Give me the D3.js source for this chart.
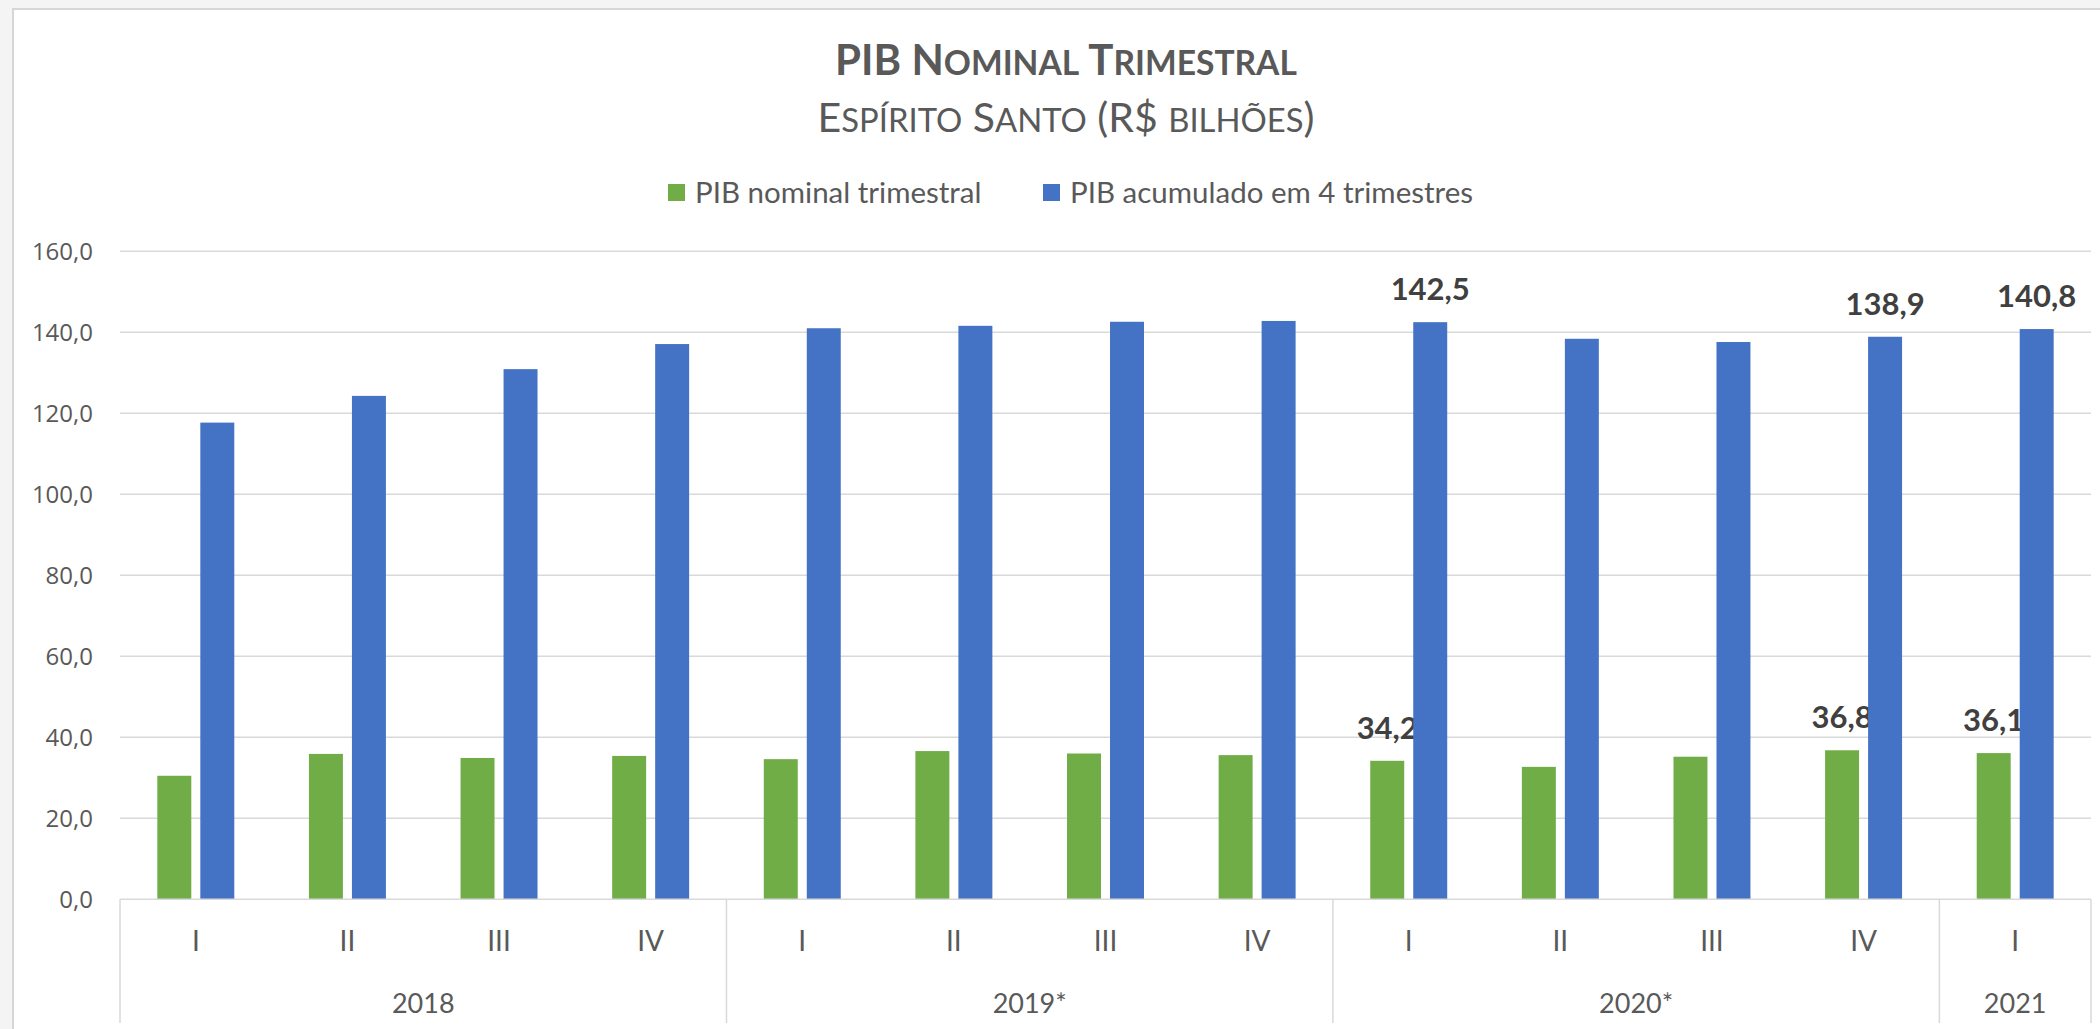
<!DOCTYPE html>
<html lang="pt">
<head>
<meta charset="UTF-8">
<title>PIB Nominal Trimestral</title>
<script src="https://d3js.org/d3.v7.min.js"></script>
<style>
  body { margin: 0; background: #f4f4f4; }
  svg { display: block; }
</style>
</head>
<body>
<div id="chart"></div>
<script>
// data
var quarters = ["I", "II", "III", "IV", "I", "II", "III", "IV", "I", "II", "III", "IV", "I"];
var years = ["2018", "2019*", "2020*", "2021"];
var yearSpan = [4, 4, 4, 1];
var seriesNames = ["PIB nominal trimestral", "PIB acumulado em 4 trimestres"];
var pibTrimestral = [30.5, 35.9, 34.9, 35.4, 34.6, 36.6, 36.0, 35.6, 34.2, 32.7, 35.2, 36.8, 36.1];
var pibAcumulado = [117.7, 124.3, 130.9, 137.1, 141.0, 141.6, 142.6, 142.8, 142.5, 138.4, 137.6, 138.9, 140.8];
var labelled = [8, 11, 12];
var yTicks = [0, 20, 40, 60, 80, 100, 120, 140, 160];

var width = 2100, height = 1029;
var colors = ["#70AD47", "#4472C4"];
var textColor = "#595959";

var svg = d3.select("#chart").append("svg")
    .attr("width", width)
    .attr("height", height);

// chart area
svg.append("rect")
    .attr("x", 13).attr("y", 9)
    .attr("width", width + 20).attr("height", height + 20)
    .attr("fill", "#ffffff")
    .attr("stroke", "#d6d6d6")
    .attr("stroke-width", 2);

var plot = {left: 120, right: 2091, top: 251.3, bottom: 899.3};

var idx = d3.range(quarters.length);
var x0 = d3.scaleBand().domain(idx).range([plot.left, plot.right]);
var x1 = d3.scaleBand().domain([0, 1]).range([0, x0.bandwidth()])
    .paddingInner(0.21).paddingOuter(0.868);
var y = d3.scaleLinear().domain([0, 160]).range([plot.bottom, plot.top]);

var fmt = d3.formatLocale({decimal: ",", thousands: ".", grouping: [3], currency: ["R$", ""]}).format(".1f");

// gridlines
svg.append("g").selectAll("line")
    .data(yTicks.filter(function(d) { return d > 0; }))
    .join("line")
    .attr("x1", plot.left).attr("x2", plot.right)
    .attr("y1", function(d) { return y(d); })
    .attr("y2", function(d) { return y(d); })
    .attr("stroke", "#d9d9d9")
    .attr("stroke-width", 1.5);

// y labels
svg.append("g").selectAll("text")
    .data(yTicks)
    .join("text")
    .attr("x", 93)
    .attr("y", function(d) { return y(d); })
    .attr("dy", "0.36em")
    .attr("text-anchor", "end")
    .attr("font-family", "'Open Sans', sans-serif")
    .attr("font-size", 24)
    .attr("fill", textColor)
    .text(function(d) { return fmt(d); });

// bars
var series = [pibTrimestral, pibAcumulado];
series.forEach(function(vals, s) {
    svg.append("g").selectAll("rect")
        .data(vals)
        .join("rect")
        .attr("x", function(d, i) { return x0(i) + x1(s); })
        .attr("width", x1.bandwidth())
        .attr("y", function(d) { return y(d); })
        .attr("height", function(d) { return y(0) - y(d); })
        .attr("fill", colors[s]);

    svg.append("g").selectAll("text")
        .data(labelled)
        .join("text")
        .attr("x", function(i) { return x0(i) + x1(s) + x1.bandwidth() / 2; })
        .attr("y", function(i) { return y(vals[i]) - 22; })
        .attr("text-anchor", "middle")
        .attr("font-family", "Lato, sans-serif")
        .attr("font-weight", "bold")
        .attr("font-size", 31)
        .attr("fill", "#404040")
        .text(function(i) { return fmt(vals[i]); });
});

// category axis
svg.append("line")
    .attr("x1", plot.left).attr("x2", plot.right)
    .attr("y1", plot.bottom).attr("y2", plot.bottom)
    .attr("stroke", "#d9d9d9").attr("stroke-width", 1.5);

svg.append("g").selectAll("text")
    .data(quarters)
    .join("text")
    .attr("x", function(d, i) { return x0(i) + x0.bandwidth() / 2; })
    .attr("y", 951)
    .attr("text-anchor", "middle")
    .attr("font-family", "Lato, sans-serif")
    .attr("font-size", 28)
    .attr("fill", textColor)
    .text(function(d) { return d; });

var starts = [];
var acc = 0;
yearSpan.forEach(function(n) { starts.push(acc); acc += n; });

var bounds = starts.map(function(s) { return x0(s); }).concat([plot.right]);
svg.append("g").selectAll("line")
    .data(bounds)
    .join("line")
    .attr("x1", function(d) { return d; }).attr("x2", function(d) { return d; })
    .attr("y1", plot.bottom).attr("y2", 1023)
    .attr("stroke", "#d9d9d9").attr("stroke-width", 1.5);

svg.append("g").selectAll("text")
    .data(years)
    .join("text")
    .attr("x", function(d, i) { return (x0(starts[i]) + x0(starts[i] + yearSpan[i] - 1) + x0.bandwidth()) / 2; })
    .attr("y", 1013)
    .attr("text-anchor", "middle")
    .attr("font-family", "Lato, sans-serif")
    .attr("font-size", 27)
    .attr("fill", textColor)
    .text(function(d) { return d; });

// titles, small caps done by hand
function smallCaps(sel, str, big, ratio) {
    var runs = [];
    str.split("").forEach(function(ch) {
        var low = ch !== ch.toUpperCase();
        var last = runs[runs.length - 1];
        if (last && last.low === low) last.t += ch;
        else runs.push({t: ch, low: low});
    });
    runs.forEach(function(r) {
        sel.append("tspan")
            .attr("font-size", r.low ? big * ratio : big)
            .text(r.low ? r.t.toUpperCase() : r.t);
    });
}

var title = svg.append("text")
    .attr("x", 1066).attr("y", 75)
    .attr("text-anchor", "middle")
    .attr("font-family", "Lato, sans-serif")
    .attr("font-weight", "bold")
    .attr("fill", textColor);
smallCaps(title, "PIB Nominal Trimestral", 42, 0.8);

var sub = svg.append("text")
    .attr("x", 1066).attr("y", 132)
    .attr("text-anchor", "middle")
    .attr("font-family", "Lato, sans-serif")
    .attr("fill", textColor);
smallCaps(sub, "Espírito Santo (R$ bilhões)", 41, 0.8);

// legend
var legendX = [668, 1043];
var legend = svg.append("g").selectAll("g")
    .data(seriesNames)
    .join("g")
    .attr("transform", function(d, i) { return "translate(" + legendX[i] + ",184)"; });
legend.append("rect")
    .attr("width", 17).attr("height", 17)
    .attr("fill", function(d, i) { return colors[i]; });
legend.append("text")
    .attr("x", 27).attr("y", 19)
    .attr("font-family", "Lato, sans-serif")
    .attr("font-size", 29.5)
    .attr("fill", textColor)
    .text(function(d) { return d; });
</script>
</body>
</html>
